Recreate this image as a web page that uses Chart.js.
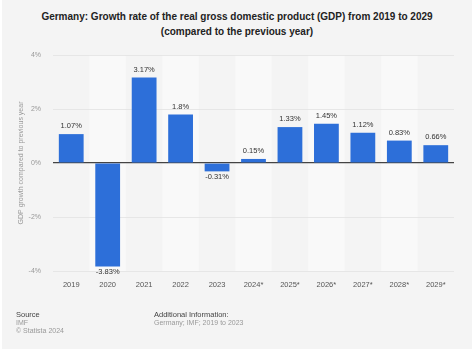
<!DOCTYPE html>
<html><head><meta charset="utf-8">
<script src="https://cdn.jsdelivr.net/npm/chart.js@4.4.1/dist/chart.umd.min.js"></script>
<style>
html,body{margin:0;padding:0;background:#fff;}
#wrap{position:absolute;left:2px;top:0;width:470px;height:349px;background:#f4f4f4;}
#title{position:absolute;left:0;top:9px;width:474px;text-align:center;font:bold 10px "Liberation Sans",Arial,sans-serif;color:#222;line-height:15px;}
canvas{position:absolute;left:0;top:0;}
.f{position:absolute;font:7px "Liberation Sans",Arial,sans-serif;color:#999;line-height:8px;}
.f b{font-weight:normal;color:#444;font-size:7.5px;}
</style></head><body>
<div id="wrap"></div>
<div id="title">Germany: Growth rate of the real gross domestic product (GDP) from 2019 to 2029<br>(compared to the previous year)</div>
<canvas id="c" width="474" height="352"></canvas>
<div class="f" style="left:16px;top:311px;"><b>Source</b><br>IMF<br>© Statista 2024</div>
<div class="f" style="left:154px;top:311px;"><b>Additional Information:</b><br>Germany; IMF; 2019 to 2023</div>
<script>
const categories = ["2019","2020","2021","2022","2023","2024*","2025*","2026*","2027*","2028*","2029*"];
const growth = [1.07, -3.83, 3.17, 1.8, -0.31, 0.15, 1.33, 1.45, 1.12, 0.83, 0.66];
const yTicks = [-4, -2, 0, 2, 4];

const bandPlugin = {
  id: 'bands',
  beforeDraw(chart) {
    const {ctx, chartArea: a, scales: {x}} = chart;
    const w = x.getPixelForValue(1) - x.getPixelForValue(0);
    ctx.save();
    categories.forEach((c, i) => {
      if (i % 2 === 1) {
        const cx = x.getPixelForValue(i);
        ctx.fillStyle = '#f9f9f9';
        ctx.fillRect(cx - w/2, a.top, w, a.bottom - a.top);
      }
    });
    ctx.restore();
  }
};
const labelPlugin = {
  id: 'vlabels',
  afterDatasetsDraw(chart) {
    const {ctx} = chart;
    const meta = chart.getDatasetMeta(0);
    ctx.save();
    ctx.font = '7.5px "Liberation Sans", Arial, sans-serif';
    ctx.fillStyle = '#333';
    ctx.textAlign = 'center';
    meta.data.forEach((bar, i) => {
      const v = growth[i];
      const txt = v + '%';
      if (v >= 0) { ctx.textBaseline = 'bottom'; ctx.fillText(txt, bar.x, bar.y - 4); }
      else { ctx.textBaseline = 'top'; ctx.fillText(txt, bar.x, bar.y + 2); }
    });
    ctx.restore();
  }
};

new Chart(document.getElementById('c'), {
  type: 'bar',
  data: { labels: categories, datasets: [{ data: growth, backgroundColor: '#2d6fd9', barPercentage: 0.68, categoryPercentage: 1 }] },
  options: {
    responsive: false, animation: false,
    layout: { padding: { left: 0, right: 20, top: 55, bottom: 61 } },
    plugins: { legend: { display: false }, tooltip: { enabled: false } },
    scales: {
      x: {
        grid: { display: false },
        border: { display: false },
        ticks: { color: '#555', font: { size: 7.5, family: '"Liberation Sans", Arial, sans-serif' }, padding: 1, maxRotation: 0 },
        afterFit(s) { s.height = 20; }
      },
      y: {
        min: -4, max: 4,
        afterBuildTicks(s) { s.ticks = yTicks.map(v => ({ value: v })); },
        grid: { color: ctx => ctx.tick && ctx.tick.value === 0 ? '#444' : '#e2e2e2', lineWidth: ctx => ctx.tick && ctx.tick.value === 0 ? 1.2 : 0.8, drawTicks: false },
        border: { display: false },
        ticks: { color: '#999', font: { size: 7, family: '"Liberation Sans", Arial, sans-serif' }, padding: 12, callback: v => v + '%' },
        title: { display: true, text: 'GDP growth compared to previous year', color: '#999', font: { size: 7, family: '"Liberation Sans", Arial, sans-serif' }, padding: { top: 17, bottom: 0 } },
        afterFit(s) { s.width = 53; }
      }
    }
  },
  plugins: [bandPlugin, labelPlugin]
});
</script>
</body></html>
